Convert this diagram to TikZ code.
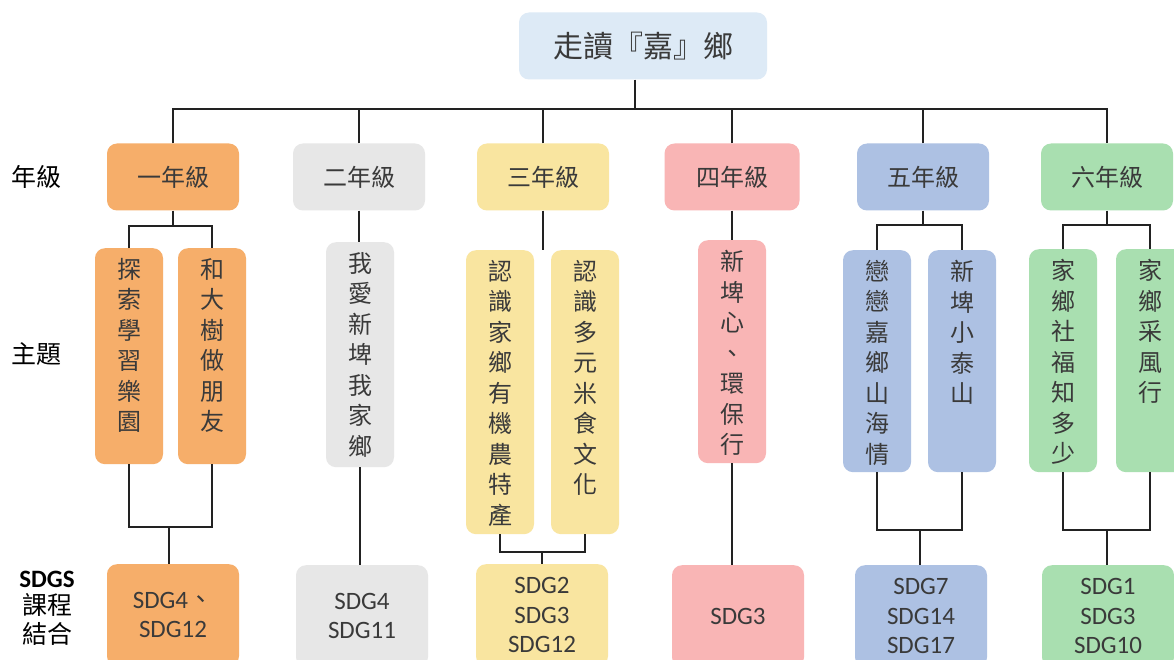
\documentclass[tikz,border=0pt]{standalone}
\usepackage{fontspec}
\setmainfont{Noto Sans CJK TC}
\newfontfamily\cjkfont{Noto Sans CJK TC}
\newfontfamily\sdgfont{Carlito}
\definecolor{txt}{HTML}{3A3A3A}
\definecolor{linec}{HTML}{222222}
\definecolor{ctop}{HTML}{DDEAF6}
\definecolor{c1}{HTML}{F6AE6A}
\definecolor{c2}{HTML}{E7E7E7}
\definecolor{c3}{HTML}{F9E5A0}
\definecolor{c4}{HTML}{F9B5B5}
\definecolor{c5}{HTML}{ADC1E3}
\definecolor{c6}{HTML}{A9DFB0}
\tikzset{
  box/.style={rounded corners=10pt, inner sep=0pt, draw=none},
  gradebox/.style={box, minimum width=132pt, minimum height=67pt, font=\fontsize{24}{28}\selectfont, text=txt},
  themebox/.style={box, minimum width=68pt, anchor=north},
  vtext/.style={anchor=north, inner sep=0pt, align=center, font=\fontsize{24}{30.5}\selectfont, text=txt},
  sdgbox/.style={box, minimum width=132pt, minimum height=102pt, anchor=north, align=center, font=\sdgfont\fontsize{25}{29.5}\selectfont, text=txt},
  conn/.style={line width=1.8pt, draw=linec},
  sidelabel/.style={inner sep=0pt, font=\fontsize{25}{29}\selectfont, text=black, align=center}
}
\begin{document}
\begin{tikzpicture}[x=1pt,y=-1pt]
\useasboundingbox (0,0) rectangle (1174,660);
\clip (0,0) rectangle (1174,660);
\fill[white] (0,0) rectangle (1174,660);

% title
\node[box, fill=ctop, minimum width=248pt, minimum height=67pt, font=\fontsize{30}{34}\selectfont, text=txt] (top) at (643,46) {走讀『嘉』鄉};

% side labels
\node[sidelabel] (lg) at (36,177) {年級};
\node[sidelabel] (lt) at (37,354) {主題};
\node[sidelabel, anchor=north] (ls) at (47,571) {{\sdgfont\bfseries\fontsize{25}{29}\selectfont SDGS}\\[-2pt]課程\\結合};

% grade boxes
\node[gradebox, fill=c1] (g1) at (173,177) {一年級};
\node[gradebox, fill=c2] (g2) at (359,177) {二年級};
\node[gradebox, fill=c3] (g3) at (543,177) {三年級};
\node[gradebox, fill=c4, minimum width=135pt] (g4) at (732,177) {四年級};
\node[gradebox, fill=c5] (g5) at (923,177) {五年級};
\node[gradebox, fill=c6] (g6) at (1107,177) {六年級};

% theme boxes
\node[themebox, fill=c1, minimum height=216pt] (t1a) at (129,248) {};
\node[vtext] at ([yshift=-10pt]t1a.north) {探\\索\\學\\習\\樂\\園};
\node[themebox, fill=c1, minimum height=216pt] (t1b) at (212,248) {};
\node[vtext] at ([yshift=-10pt]t1b.north) {和\\大\\樹\\做\\朋\\友};
\node[themebox, fill=c2, minimum height=225pt] (t2) at (360,242) {};
\node[vtext] at ([yshift=-10pt]t2.north) {我\\愛\\新\\埤\\我\\家\\鄉};
\node[themebox, fill=c3, minimum height=284pt] (t3a) at (500,250) {};
\node[vtext] at ([yshift=-10pt]t3a.north) {認\\識\\家\\鄉\\有\\機\\農\\特\\產};
\node[themebox, fill=c3, minimum height=284pt] (t3b) at (585,250) {};
\node[vtext] at ([yshift=-10pt]t3b.north) {認\\識\\多\\元\\米\\食\\文\\化};
\node[themebox, fill=c4, minimum height=223pt] (t4) at (732,240) {};
\node[vtext] at ([yshift=-10pt]t4.north) {新\\埤\\心\\、\\環\\保\\行};
\node[themebox, fill=c5, minimum height=222pt] (t5a) at (877,250) {};
\node[vtext] at ([yshift=-10pt]t5a.north) {戀\\戀\\嘉\\鄉\\山\\海\\情};
\node[themebox, fill=c5, minimum height=222pt] (t5b) at (962,250) {};
\node[vtext] at ([yshift=-10pt]t5b.north) {新\\埤\\小\\泰\\山};
\node[themebox, fill=c6, minimum height=223pt] (t6a) at (1063,249) {};
\node[vtext] at ([yshift=-10pt]t6a.north) {家\\鄉\\社\\福\\知\\多\\少};
\node[themebox, fill=c6, minimum height=223pt] (t6b) at (1150,249) {};
\node[vtext] at ([yshift=-10pt]t6b.north) {家\\鄉\\采\\風\\行};

% SDG boxes
\node[sdgbox, fill=c1] (b1) at (173,564) {SDG4{\cjkfont 、}\\SDG12};
\node[sdgbox, fill=c2] (b2) at (362,565) {SDG4\\SDG11};
\node[sdgbox, fill=c3] (b3) at (542,564) {SDG2\\SDG3\\SDG12};
\node[sdgbox, fill=c4] (b4) at (738,565) {SDG3};
\node[sdgbox, fill=c5] (b5) at (921,565) {SDG7\\SDG14\\SDG17};
\node[sdgbox, fill=c6] (b6) at (1108,565) {SDG1\\SDG3\\SDG10};

% top connectors
\coordinate (tj) at (635,109);
\draw[conn] (top.south -| tj) -- (tj);
\draw[conn] (g1.north) |- (tj) -| (g6.north);
\foreach \g in {g2,g3,g4,g5} \draw[conn] (\g.north) -- (\g.north |- tj);

% grade -> theme
\draw[conn] (g1.south) -- ++(0,15) coordinate (k1);
\draw[conn] (t1a.north) |- (k1) -| (t1b.north);
\draw[conn] (g2.south) -- (t2.north -| g2.south);
\draw[conn] (g3.south) -- (g3.south |- t3a.north);
\draw[conn] (g4.south) -- (t4.north -| g4.south);
\draw[conn] (g5.south) -- ++(0,14) coordinate (k5);
\draw[conn] (t5a.north) |- (k5) -| (t5b.north);
\draw[conn] (g6.south) -- ++(0,14) coordinate (k6);
\draw[conn] (t6a.north) |- (k6) -| (t6b.north);

% theme -> sdg
\coordinate (j1) at (169,527);
\draw[conn] (t1a.south) |- (j1) -| (t1b.south);
\draw[conn] (j1) -- (j1 |- b1.north);
\draw[conn] (t2.south) -- (t2.south |- b2.north);
\coordinate (j3) at (542,552);
\draw[conn] (t3a.south) |- (j3) -| (t3b.south);
\draw[conn] (j3) -- (j3 |- b3.north);
\draw[conn] (t4.south) -- (t4.south |- b4.north);
\coordinate (j5) at (920,530);
\draw[conn] (t5a.south) |- (j5) -| (t5b.south);
\draw[conn] (j5) -- (j5 |- b5.north);
\coordinate (j6) at (1107,530);
\draw[conn] (t6a.south) |- (j6) -| (t6b.south);
\draw[conn] (j6) -- (j6 |- b6.north);
\end{tikzpicture}
\end{document}
